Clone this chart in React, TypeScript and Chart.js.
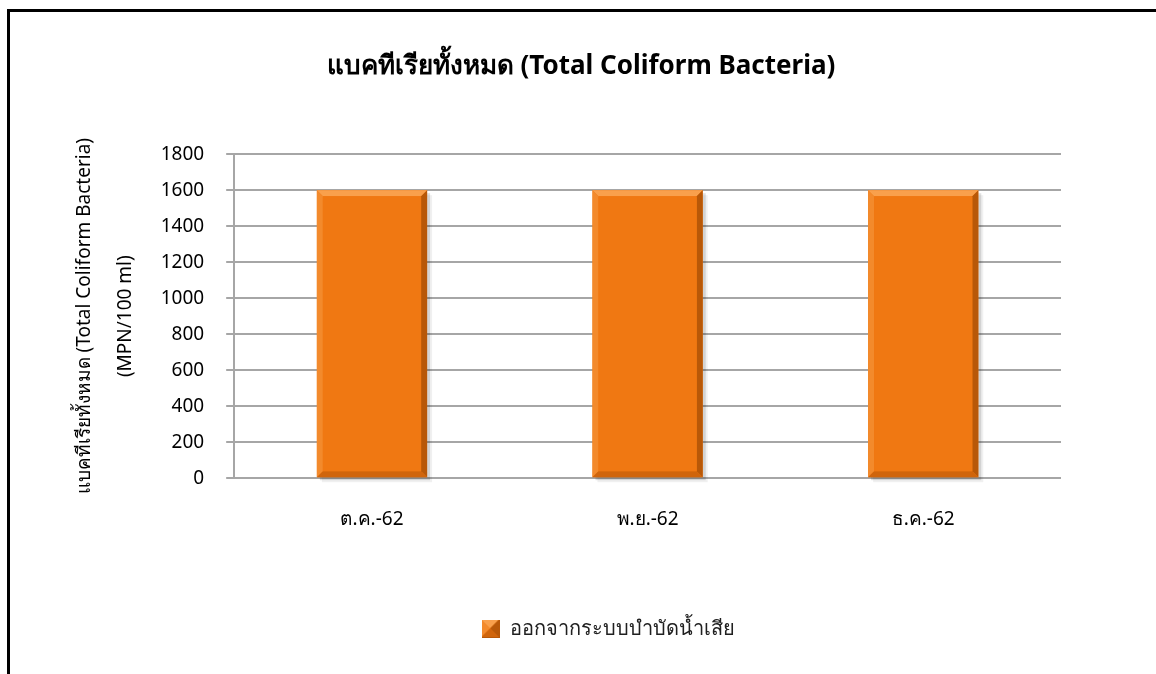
import React, { useEffect, useRef } from "react";
import { Chart, registerables } from "chart.js";

Chart.register(...registerables);

const categories: string[] = ["ต.ค.-62", "พ.ย.-62", "ธ.ค.-62"];
const seriesName = "ออกจากระบบบำบัดน้ำเสีย";
const seriesValues: number[] = [1600, 1600, 1600];
const chartTitle = "แบคทีเรียทั้งหมด (Total Coliform Bacteria)";
const yTitleLines: string[] = ["แบคทีเรียทั้งหมด (Total Coliform Bacteria)", "(MPN/100 ml)"];
const yMin = 0;
const yMax = 1800;
const yStep = 200;

const FONT = "'Noto Sans', 'Open Sans', sans-serif";
const BAR = "#F07812";
const BAR_LIGHT = "#F9A04C";
const BAR_LEFT = "#F38A2C";
const BAR_DARK = "#B85808";
const BAR_BOTTOM = "#D0650C";

function drawBevel(ctx: CanvasRenderingContext2D, x: number, y: number, w: number, h: number, d: number) {
  ctx.fillStyle = BAR;
  ctx.fillRect(x, y, w, h);
  ctx.fillStyle = BAR_LIGHT;
  ctx.beginPath();
  ctx.moveTo(x, y); ctx.lineTo(x + w, y); ctx.lineTo(x + w - d, y + d); ctx.lineTo(x + d, y + d); ctx.closePath(); ctx.fill();
  ctx.fillStyle = BAR_LEFT;
  ctx.beginPath();
  ctx.moveTo(x, y); ctx.lineTo(x + d, y + d); ctx.lineTo(x + d, y + h - d); ctx.lineTo(x, y + h); ctx.closePath(); ctx.fill();
  ctx.fillStyle = BAR_DARK;
  ctx.beginPath();
  ctx.moveTo(x + w, y); ctx.lineTo(x + w, y + h); ctx.lineTo(x + w - d, y + h - d); ctx.lineTo(x + w - d, y + d); ctx.closePath(); ctx.fill();
  ctx.fillStyle = BAR_BOTTOM;
  ctx.beginPath();
  ctx.moveTo(x, y + h); ctx.lineTo(x + w, y + h); ctx.lineTo(x + w - d, y + h - d); ctx.lineTo(x + d, y + h - d); ctx.closePath(); ctx.fill();
}

const bevelPlugin = {
  id: "bevelBars",
  afterDatasetsDraw(chart: any) {
    const ctx: CanvasRenderingContext2D = chart.ctx;
    const meta = chart.getDatasetMeta(0);
    ctx.save();
    meta.data.forEach((bar: any) => {
      const { x, y, base, width } = bar.getProps(["x", "y", "base", "width"], true);
      const left = x - width / 2;
      const top = Math.min(y, base);
      const h = Math.abs(base - y);
      ctx.fillStyle = "rgba(0,0,0,0.12)";
      ctx.fillRect(left + 3, top + 3, width, h);
      ctx.fillStyle = "rgba(0,0,0,0.06)";
      ctx.fillRect(left + 5, top + 5, width, h);
      drawBevel(ctx, left, top, width, h, 6);
      ctx.fillStyle = BAR;
      ctx.fillRect(left + 6, top + 6, width - 12, h - 12);
    });
    ctx.restore();
  },
};

const legendShiftPlugin = {
  id: "legendShift",
  afterLayout(chart: any) {
    if (chart.legend) {
      chart.legend.left += 27;
      chart.legend.right += 27;
    }
  },
};

function legendIcon(): HTMLCanvasElement {
  const c = document.createElement("canvas");
  c.width = 18;
  c.height = 18;
  const ctx = c.getContext("2d")!;
  ctx.fillStyle = BAR_DARK;
  ctx.fillRect(0, 0, 18, 18);
  drawBevel(ctx, 0, 0, 17, 17, 8);
  return c;
}

export default function App() {
  const ref = useRef<HTMLCanvasElement | null>(null);

  useEffect(() => {
    if (!ref.current) return;
    const icon = legendIcon();
    const chart = new Chart(ref.current, {
      type: "bar",
      data: {
        labels: categories,
        datasets: [
          {
            label: seriesName,
            data: seriesValues,
            backgroundColor: "rgba(0,0,0,0)",
            borderWidth: 0,
            categoryPercentage: 1,
            barPercentage: 0.4,
          },
        ],
      },
      options: {
        animation: false,
        responsive: true,
        maintainAspectRatio: false,
        devicePixelRatio: 1,
        layout: { padding: { top: 40, left: 6, right: 0, bottom: 25 } },
        plugins: {
          tooltip: { enabled: false },
          title: {
            display: true,
            text: chartTitle,
            color: "#000",
            font: { family: FONT, size: 26, weight: "bold" },
            padding: { top: 11, bottom: 72 },
          },
          legend: {
            display: true,
            position: "bottom",
            labels: {
              color: "#202020",
              font: { family: FONT, size: 20 },
              usePointStyle: true,
              pointStyle: icon as any,
              boxWidth: 18,
              boxHeight: 18,
              padding: 10,
            },
          },
        },
        scales: {
          x: {
            grid: { display: false, drawTicks: false },
            border: { display: false },
            ticks: { color: "#000", font: { family: FONT, size: 19 }, padding: 30 },
            afterFit: (scale: any) => {
              scale.height += 48;
            },
          },
          y: {
            min: yMin,
            max: yMax,
            ticks: {
              stepSize: yStep,
              color: "#000",
              font: { family: FONT, size: 19 },
              padding: 22,
              callback: (v: any) => String(v),
            },
            grid: {
              color: "#A6A6A6",
              lineWidth: 2,
              tickLength: 8,
              tickColor: "#A6A6A6",
            },
            border: { display: true, color: "#A6A6A6", width: 2 },
            title: {
              display: true,
              text: yTitleLines,
              color: "#000",
              font: { family: FONT, size: 19, lineHeight: 2.15 },
              padding: { top: 58, bottom: 0 },
            },
            afterFit: (scale: any) => {
              scale.width -= 7;
            },
          },
          y2: {
            position: "right",
            display: true,
            min: yMin,
            max: yMax,
            grid: { display: false, drawTicks: false },
            border: { display: false },
            ticks: { display: false },
            afterFit: (scale: any) => {
              scale.width = 95;
            },
          },
        },
      },
      plugins: [bevelPlugin, legendShiftPlugin],
    });
    return () => chart.destroy();
  }, []);

  return (
    <div style={{ position: "absolute", left: 0, top: 0, width: 1156, height: 674, overflow: "hidden", background: "#fff" }}>
      <div style={{ position: "absolute", left: 0, top: 0, width: 1156, height: 674 }}>
        <canvas ref={ref} />
      </div>
      <div
        style={{
          position: "absolute",
          left: 7,
          top: 9,
          width: 1200,
          height: 700,
          borderTop: "3px solid #000",
          borderLeft: "3px solid #000",
          pointerEvents: "none",
        }}
      />
    </div>
  );
}
